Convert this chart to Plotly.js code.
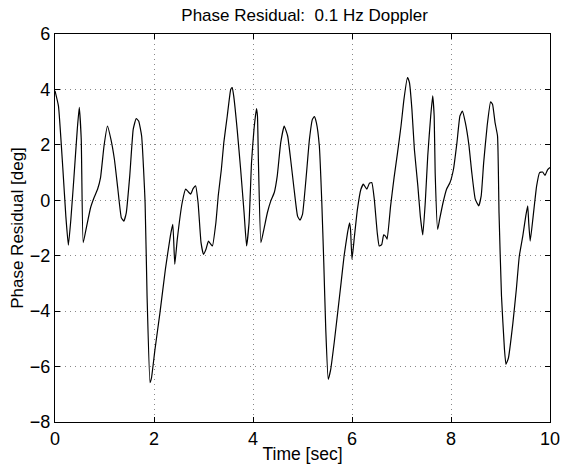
<!DOCTYPE html>
<html>
<head>
<meta charset="utf-8">
<script src="https://cdn.plot.ly/plotly-3.0.1.min.js"></script>
<style>html,body{margin:0;padding:0;background:#fff;}#chart{width:561px;height:466px;}</style>
</head>
<body>
<div id="chart"></div>
<script>
const timeSec = [0,0.07,0.16,0.22,0.27,0.32,0.38,0.45,0.49,0.53,0.57,0.64,0.72,0.79,0.86,0.92,0.99,1.06,1.13,1.2,1.27,1.34,1.39,1.44,1.51,1.58,1.64,1.69,1.75,1.82,1.86,1.92,1.95,2.02,2.12,2.23,2.33,2.38,2.42,2.47,2.57,2.64,2.69,2.74,2.79,2.84,2.89,2.95,3.0,3.05,3.1,3.15,3.18,3.25,3.3,3.36,3.41,3.48,3.55,3.58,3.61,3.68,3.75,3.82,3.87,3.92,3.97,4.02,4.07,4.09,4.11,4.16,4.22,4.29,4.36,4.43,4.49,4.56,4.63,4.7,4.76,4.83,4.9,4.95,5.0,5.07,5.14,5.2,5.24,5.28,5.34,5.39,5.43,5.47,5.52,5.57,5.64,5.71,5.78,5.84,5.91,5.95,5.97,6.0,6.05,6.11,6.18,6.23,6.3,6.35,6.4,6.45,6.51,6.55,6.6,6.64,6.68,6.71,6.78,6.85,6.92,6.99,7.05,7.12,7.16,7.21,7.26,7.33,7.38,7.43,7.48,7.53,7.59,7.63,7.66,7.68,7.73,7.77,7.84,7.91,7.98,8.05,8.12,8.18,8.23,8.29,8.36,8.42,8.49,8.56,8.61,8.66,8.73,8.8,8.84,8.89,8.94,8.97,9.02,9.08,9.11,9.16,9.25,9.32,9.38,9.45,9.51,9.55,9.57,9.6,9.66,9.73,9.79,9.85,9.9,9.95,10.0];
const residualDeg = [3.95,3.4,1.1,-0.6,-1.62,-0.7,0.76,2.56,3.35,2.2,-1.53,-0.93,-0.26,0.1,0.4,0.82,1.96,2.68,2.2,1.48,0.4,-0.63,-0.75,-0.45,0.88,2.56,2.95,2.86,2.32,-0.08,-3.45,-6.58,-6.4,-5.38,-4.06,-2.49,-1.29,-0.87,-2.31,-1.41,-0.08,0.4,0.31,0.22,0.42,0.52,-0.08,-1.53,-1.95,-1.77,-1.47,-1.59,-1.65,-0.81,0.2,1.1,2.08,3.04,4.0,4.07,3.77,2.56,1.12,-0.45,-1.65,-0.81,1.36,2.56,3.31,3.04,1.36,-1.53,-1.05,-0.45,-0.02,0.28,0.88,2.08,2.68,2.32,1.48,0.4,-0.57,-0.72,-0.51,0.76,2.2,2.92,3.02,2.8,1.96,-0.08,-2.25,-4.66,-6.46,-6.1,-5.14,-4.06,-2.97,-2.01,-1.17,-0.81,-1.05,-2.13,-1.29,-0.32,0.4,0.58,0.4,0.61,0.64,0.04,-1.17,-1.65,-1.6,-1.25,-1.3,-1.4,-0.2,0.82,1.72,2.68,3.65,4.43,4.25,3.29,1.84,0.52,-0.57,-1.25,-0.08,1.6,3.04,3.77,3.04,1.0,-1.05,-0.69,-0.08,0.4,0.64,1.12,2.08,3.04,3.22,2.8,2.02,1.0,0.04,-0.2,0.16,1.36,2.68,3.55,3.46,2.8,2.32,-0.45,-3.45,-5.38,-5.92,-5.69,-4.43,-3.21,-2.01,-1.29,-0.57,-0.2,-0.81,-1.47,-0.57,0.52,1.0,1.02,0.9,1.1,1.18];
const xTicks = [0,2,4,6,8,10];
const yTicks = [-8,-6,-4,-2,0,2,4,6];
const chartTitle = 'Phase Residual:\u00A0 0.1 Hz Doppler';
const xLabel = 'Time [sec]';
const yLabel = 'Phase Residual [deg]';

const font = {family: '"Liberation Sans", Arial, Helvetica, sans-serif', size: 16, color: '#000'};
const axisCommon = {
  showline: true, linecolor: '#000', linewidth: 1.2, mirror: 'ticks',
  ticks: 'inside', ticklen: 5, tickcolor: '#000', tickwidth: 1,
  showgrid: true, gridcolor: '#888', gridwidth: 1, griddash: '1px,4px',
  zeroline: false, tickfont: {family: font.family, size: 18, color: '#000'}
};

Plotly.newPlot('chart', [{
  x: timeSec, y: residualDeg, type: 'scatter', mode: 'lines',
  line: {color: '#000', width: 1.2, shape: 'spline', smoothing: 0.4}, hoverinfo: 'skip'
}], {
  width: 561, height: 466,
  margin: {l: 55, r: 11, t: 34, b: 44},
  paper_bgcolor: '#fff', plot_bgcolor: '#fff',
  font: font, showlegend: false,
  title: {text: chartTitle, font: {family: font.family, size: 17, color: '#000'},
          x: 0.543, xanchor: 'center', y: 0.968, yanchor: 'middle'},
  xaxis: Object.assign({}, axisCommon, {
    range: [0, 10], tickvals: xTicks, ticktext: xTicks.map(String),
    title: {text: xLabel, font: {family: font.family, size: 17.5, color: '#000'}, standoff: 0}
  }),
  yaxis: Object.assign({}, axisCommon, {
    range: [-8, 6], tickvals: yTicks, ticktext: yTicks.map(v => v < 0 ? '\u2212' + Math.abs(v) : String(v)),
    title: {text: yLabel, font: {family: font.family, size: 17, color: '#000'}, standoff: 1}
  })
}, {displayModeBar: false, staticPlot: true});
</script>
</body>
</html>
